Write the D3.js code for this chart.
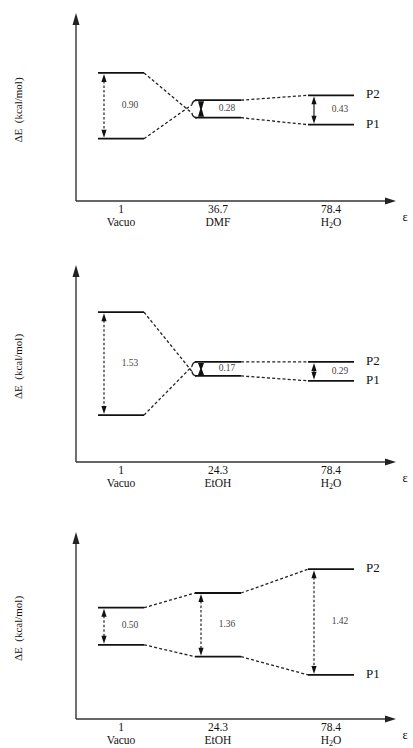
<!DOCTYPE html>
<html><head><meta charset="utf-8">
<script src="https://cdn.jsdelivr.net/npm/d3@7"></script>
<style>
body{margin:0;background:#fff}
svg{display:block}
text{font-family:"Liberation Serif","Times New Roman",serif;fill:#111}
</style>
</head><body>
<svg id="c" width="413" height="748"></svg>
<script>
// ---- data (energies in kcal/mol; relative scale) ----
const epsLabels1 = ["1", "36.7", "78.4"];
const solventLabels1 = ["Vacuo", "DMF", "H2O"];
const p1Energy1 = [1.83, 1.19, 1.09];
const p2Energy1 = [0.89, 1.44, 1.51];
const gapLabels1 = ["0.90", "0.28", "0.43"];

const epsLabels2 = ["1", "24.3", "78.4"];
const solventLabels2 = ["Vacuo", "EtOH", "H2O"];
const p1Energy2 = [2.14, 1.23, 1.16];
const p2Energy2 = [0.67, 1.43, 1.43];
const gapLabels2 = ["1.53", "0.17", "0.29"];

const epsLabels3 = ["1", "24.3", "78.4"];
const solventLabels3 = ["Vacuo", "EtOH", "H2O"];
const p1Energy3 = [1.06, 0.89, 0.63];
const p2Energy3 = [1.59, 1.80, 2.14];
const gapLabels3 = ["0.50", "1.36", "1.42"];

const seriesNames = ["P1", "P2"];
const yAxisTitle = "\u0394E  (kcal/mol)";
const xAxisTitle = "\u03b5";

// ---- layout ----
const svg = d3.select("#c");
const axisX = 76, xTip = 396, pxPerUnit = 70, hw = 23;
const panelsLayout = [
  {bottom: 201, top: 13},
  {bottom: 462, top: 265},
  {bottom: 719, top: 532}
];
const x = d3.scaleLinear().domain([0, 1, 2]).range([121, 218, 331]);

const panelData = [
  {eps: epsLabels1, sol: solventLabels1, p1: p1Energy1, p2: p2Energy1, gaps: gapLabels1},
  {eps: epsLabels2, sol: solventLabels2, p1: p1Energy2, p2: p2Energy2, gaps: gapLabels2},
  {eps: epsLabels3, sol: solventLabels3, p1: p1Energy3, p2: p2Energy3, gaps: gapLabels3}
];

function solventText(sel, name) {
  if (name === "H2O") {
    sel.text("H");
    sel.append("tspan").attr("font-size", "8px").attr("dy", 1.5).text("2");
    sel.append("tspan").attr("dy", -1.5).text("O");
  } else sel.text(name);
}

panelData.forEach((pd, k) => {
  const L = panelsLayout[k];
  const g = svg.append("g");
  const y = d3.scaleLinear().domain([0, (L.bottom - L.top) / pxPerUnit]).range([L.bottom, L.top]);
  const ink = "#222";

  // axes
  g.append("line").attr("x1", axisX).attr("x2", axisX).attr("y1", L.bottom).attr("y2", L.top + 8)
    .attr("stroke", "#333").attr("stroke-width", 1.4);
  g.append("path").attr("d", `M${axisX},${y.range()[1]} L${axisX - 3.5},${L.top + 12} L${axisX + 3.5},${L.top + 12} Z`)
    .attr("fill", "#222");
  g.append("line").attr("x1", axisX).attr("x2", xTip - 8).attr("y1", L.bottom).attr("y2", L.bottom)
    .attr("stroke", "#333").attr("stroke-width", 1.4);
  g.append("path").attr("d", `M${xTip},${L.bottom} L${xTip - 11},${L.bottom - 3.5} L${xTip - 11},${L.bottom + 3.5} Z`)
    .attr("fill", "#222");

  // y title
  const my = (L.bottom + L.top) / 2 + 3;
  g.append("text").attr("transform", `translate(19,${my}) rotate(-90)`)
    .attr("text-anchor", "middle").attr("font-size", "11px").attr("dominant-baseline", "middle")
    .attr("xml:space", "preserve").style("white-space", "pre").text(yAxisTitle);
  // x title
  g.append("text").attr("x", 405).attr("y", L.bottom + 17).attr("text-anchor", "middle")
    .attr("dominant-baseline", "middle").attr("font-size", "12.5px").text(xAxisTitle);

  // tick labels
  pd.eps.forEach((e, i) => {
    g.append("text").attr("x", x(i)).attr("y", L.bottom + 12).attr("text-anchor", "middle")
      .attr("font-size", "11.5px").text(e);
    const t = g.append("text").attr("x", x(i)).attr("y", L.bottom + 25).attr("text-anchor", "middle")
      .attr("font-size", "11.5px");
    solventText(t, pd.sol[i]);
  });

  const series = [pd.p1, pd.p2];
  // crossing detection (into category i)
  const crossInto = d3.range(pd.p1.length).map(i => i > 0 &&
    Math.sign(pd.p1[i - 1] - pd.p2[i - 1]) !== Math.sign(pd.p1[i] - pd.p2[i]));

  // connectors
  series.forEach((s, si) => {
    const other = series[1 - si];
    for (let i = 0; i < s.length - 1; i++) {
      const x1 = x(i) + hw, y1 = y(s[i]);
      const Lx = x(i + 1) - hw, y2 = y(s[i + 1]);
      if (crossInto[i + 1]) {
        const d = y(other[i + 1]) > y2 ? 1 : -1; // bend toward other level
        const ex = Lx - 3, ey = y2 + d * 4.5;
        g.append("line").attr("x1", x1).attr("y1", y1).attr("x2", ex).attr("y2", ey)
          .attr("stroke", ink).attr("stroke-width", 1.3).attr("stroke-dasharray", "3,2.2");
        g.append("path").attr("d", `M${ex},${ey} Q${Lx - 2.5},${y2} ${Lx + 2},${y2}`)
          .attr("fill", "none").attr("stroke", ink).attr("stroke-width", 1.4);
      } else {
        g.append("line").attr("x1", x1).attr("y1", y1).attr("x2", Lx).attr("y2", y2)
          .attr("stroke", ink).attr("stroke-width", 1.3).attr("stroke-dasharray", "3,2.2");
      }
    }
  });

  // levels
  series.forEach(s => {
    s.forEach((v, i) => {
      g.append("line").attr("x1", x(i) - hw).attr("x2", x(i) + hw).attr("y1", y(v)).attr("y2", y(v))
        .attr("stroke", "#111").attr("stroke-width", 1.8);
    });
  });

  // gap arrows and labels
  pd.gaps.forEach((lab, i) => {
    const ya = Math.min(y(pd.p1[i]), y(pd.p2[i]));
    const yb = Math.max(y(pd.p1[i]), y(pd.p2[i]));
    const ax = x(i) - hw + 6;
    const gap = yb - ya;
    if (crossInto[i]) {
      // compact hourglass arrow
      const m = (ya + yb) / 2;
      g.append("path").attr("d",
        `M${ax - 3},${ya + 1} L${ax + 3},${ya + 1} L${ax + 0.8},${m} L${ax + 3},${yb - 1} L${ax - 3},${yb - 1} L${ax - 0.8},${m} Z`)
        .attr("fill", "#111");
    } else {
      const hl = 8, hwid = 2.6;
      g.append("line").attr("x1", ax).attr("x2", ax).attr("y1", ya + hl).attr("y2", yb - hl)
        .attr("stroke", "#222").attr("stroke-width", 1.2)
        .attr("stroke-dasharray", gap > 35 ? "2.5,2" : null);
      g.append("path").attr("d", `M${ax},${ya + 1} L${ax - hwid},${ya + hl + 1} L${ax + hwid},${ya + hl + 1} Z`).attr("fill", "#111");
      g.append("path").attr("d", `M${ax},${yb - 1} L${ax - hwid},${yb - hl - 1} L${ax + hwid},${yb - hl - 1} Z`).attr("fill", "#111");
    }
    g.append("text").attr("x", x(i) + 9).attr("y", (ya + yb) / 2).attr("text-anchor", "middle")
      .attr("dominant-baseline", "middle").attr("font-size", "9.5px").style("fill", "#444").text(lab);
  });

  // series labels
  const last = pd.p1.length - 1;
  series.forEach((s, si) => {
    g.append("text").attr("x", x(last) + hw + 12).attr("y", y(s[last])).attr("dominant-baseline", "middle")
      .attr("font-size", "13px").text(seriesNames[si]);
  });
});
</script>
</body></html>
